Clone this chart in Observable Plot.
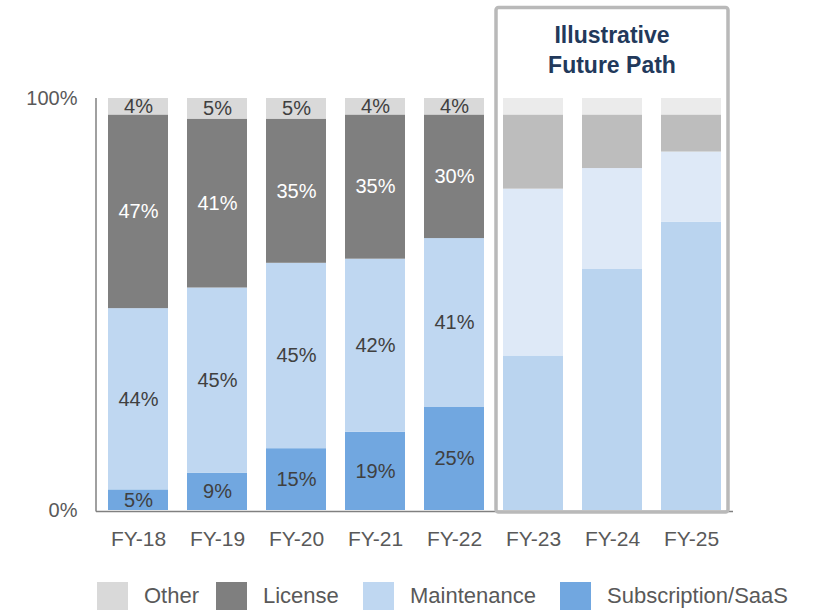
<!DOCTYPE html>
<html><head><meta charset="utf-8">
<script src="https://cdn.jsdelivr.net/npm/d3@7"></script>
<script src="https://cdn.jsdelivr.net/npm/@observablehq/plot@0.6"></script>
<style>
body{margin:0;background:#fff;font-family:"Liberation Sans",Arial,sans-serif;}
#wrap{position:relative;width:815px;height:610px;overflow:hidden}
#legend{position:absolute;left:0;top:582px;width:815px;height:28px}
.item{position:absolute;top:0;height:28px;display:flex;align-items:center}
.sw{width:31px;height:28px;margin-right:16px}
.lab{font-size:22px;color:#595959;line-height:28px}
</style></head><body><div id="wrap"><div id="chart"></div><div id="legend"></div></div>
<script>
// ---- data ----
const years = ["FY-18", "FY-19", "FY-20", "FY-21", "FY-22", "FY-23", "FY-24", "FY-25"];
const projectedYears = ["FY-23", "FY-24", "FY-25"];
const seriesNames = ["Subscription/SaaS", "Maintenance", "License", "Other"]; // bottom to top
const subscription = [5, 9, 15, 19, 25, 37.5, 58.5, 70];
const maintenance = [44, 45, 45, 42, 41, 40.5, 24.5, 17];
const license = [47, 41, 35, 35, 30, 18, 13, 9];
const other = [4, 5, 5, 4, 4, 4, 4, 4];
const legendOrder = ["Other", "License", "Maintenance", "Subscription/SaaS"];
const titleLines = ["Illustrative", "Future Path"];

// ---- styles ----
const actualColors = {"Other": "#d9d9d9", "License": "#7f7f7f", "Maintenance": "#bfd7f1", "Subscription/SaaS": "#71a7e0"};
const projectedColors = {"Other": "#ebebeb", "License": "#bdbdbd", "Maintenance": "#dee9f7", "Subscription/SaaS": "#bad4ef"};
const labelColors = {"Other": "#404040", "License": "#ffffff", "Maintenance": "#404040", "Subscription/SaaS": "#404040"};

const valuesBySeries = {"Subscription/SaaS": subscription, "Maintenance": maintenance, "License": license, "Other": other};
const rows = [];
years.forEach((year, i) => {
  const projected = projectedYears.includes(year);
  seriesNames.forEach(s => {
    rows.push({
      year, series: s, value: valuesBySeries[s][i], projected,
      color: (projected ? projectedColors : actualColors)[s],
      textColor: labelColors[s]
    });
  });
});
const labelRows = rows.filter(d => !d.projected);

const plot = Plot.plot({
  width: 815, height: 578,
  marginLeft: 96, marginRight: 82, marginTop: 98, marginBottom: 68,
  style: {fontFamily: '"Liberation Sans", Arial, sans-serif', fontSize: "20px", color: "#595959", background: "transparent", overflow: "visible"},
  x: {domain: years, paddingInner: 0.246, paddingOuter: 0.126, align: 0.5, label: null, tickSize: 0, tickPadding: 21},
  y: {domain: [0, 100], label: null, ticks: [0, 100], tickSize: 0, tickPadding: 19, tickFormat: d => d + "%"},
  color: {type: "identity"},
  marks: [
    Plot.barY(rows, Plot.stackY({x: "year", y: "value", z: "series", fill: "color", order: null})),
    Plot.text(labelRows, Plot.stackY({x: "year", y: "value", z: "series", order: null, text: d => d.value + "%", fill: "textColor", fontSize: 20})),
    Plot.ruleY([0], {stroke: "#808080", strokeWidth: 1.5, dy: 1})
  ]
});
document.getElementById("chart").appendChild(plot);

const svg = d3.select(plot);
svg.selectAll('[aria-label^="x-axis"]').attr("font-size", 21);
svg.selectAll('[aria-label^="x-axis"] text').attr("font-size", 21);

// axis line on left, box and title using the plot's own scales
const sx = plot.scale("x"), sy = plot.scale("y");
const yTop = sy.apply(100), yBot = sy.apply(0);
svg.append("line")
  .attr("x1", sx.range[0]).attr("x2", sx.range[0])
  .attr("y1", yTop).attr("y2", yBot + 1.5)
  .attr("stroke", "#808080").attr("stroke-width", 1.5);

const bx0 = sx.apply(projectedYears[0]) - 7;
const bx1 = sx.apply(projectedYears[projectedYears.length - 1]) + sx.bandwidth + 7;
svg.append("rect")
  .attr("x", bx0).attr("y", 7.5)
  .attr("width", bx1 - bx0).attr("height", yBot + 2 - 7.5)
  .attr("rx", 2.5)
  .attr("fill", "none").attr("stroke", "#b9b9b9").attr("stroke-width", 3.5);

const cx = sx.apply(projectedYears[1]) + sx.bandwidth / 2;
titleLines.forEach((t, i) => {
  svg.append("text")
    .attr("x", cx).attr("y", 37 + i * 30)
    .attr("text-anchor", "middle").attr("dominant-baseline", "middle")
    .attr("font-size", 23).attr("font-weight", "bold")
    .attr("fill", "#22395b")
    .text(t);
});

// legend
const legendLeft = [97, 216, 363, 560];
const legend = d3.select("#legend");
legendOrder.forEach((s, i) => {
  const item = legend.append("div").attr("class", "item").style("left", legendLeft[i] + "px");
  item.append("div").attr("class", "sw").style("background", actualColors[s]);
  item.append("div").attr("class", "lab").text(s);
});
</script>
</body></html>
